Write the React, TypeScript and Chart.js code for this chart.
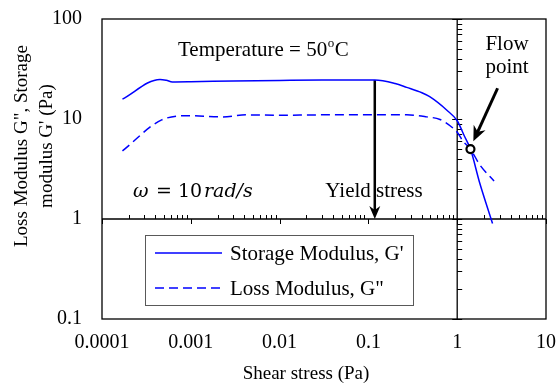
import { useEffect, useRef } from 'react';
import { Chart, registerables } from 'chart.js';

Chart.register(...registerables);

// Shear stress sweep (Pa) and moduli (Pa)
const storageStress = [0.00017, 0.00045, 0.00053, 0.00062, 0.001, 0.003, 0.01, 0.03, 0.118, 0.2, 0.27, 0.4, 0.49, 0.76, 1.0, 1.2, 1.41, 1.79, 2.22, 2.5];
const storageModulus = [15.8, 24.9, 24.4, 23.5, 23.6, 24.0, 24.3, 24.5, 24.5, 22.6, 20.7, 18.3, 16.7, 12.3, 9.6, 6.8, 5.0, 2.3, 1.25, 0.9];
const lossStress = [0.00017, 0.00047, 0.00098, 0.0023, 0.0042, 0.01, 0.03, 0.1, 0.27, 0.45, 0.64, 0.9, 1.02, 1.16, 1.41, 1.79, 2.6];
const lossModulus = [4.8, 9.8, 10.8, 10.5, 11.0, 10.9, 11.0, 11.0, 11.0, 10.5, 9.9, 8.1, 7.2, 6.0, 5.0, 3.5, 2.4];

// Flow point (G' = G'')
const flowPointStress = [1.41];
const flowPointModulus = [5.0];

// Yield stress marker and flow-point pointer
const yieldStress = 0.118;
const yieldModulus = 24.5;
const flowArrowFrom = [2.85, 20.3];
const flowArrowTo = [1.52, 6.0];

// Axis ranges and labelled ticks
const xTickValues = [0.0001, 0.001, 0.01, 0.1, 1, 10];
const yTickValues = [0.1, 1, 10, 100];
const axisCross = 1;

const seriesLabels = ["Storage Modulus, G'", 'Loss Modulus, G"'];
const BLUE = '#0000ff';
const SERIF = '"Liberation Serif", "Times New Roman", serif';
const MATH = '"DejaVu Serif", serif';

function drawArrow(ctx: CanvasRenderingContext2D, x0: number, y0: number, x1: number, y1: number, headLen: number, headHalf: number, width: number) {
  const ang = Math.atan2(y1 - y0, x1 - x0);
  const dx = Math.cos(ang), dy = Math.sin(ang);
  const px = -dy, py = dx;
  ctx.save();
  ctx.strokeStyle = '#000';
  ctx.fillStyle = '#000';
  ctx.lineWidth = width;
  ctx.beginPath();
  ctx.moveTo(x0, y0);
  ctx.lineTo(x1 - dx * headLen * 0.6, y1 - dy * headLen * 0.6);
  ctx.stroke();
  ctx.beginPath();
  ctx.moveTo(x1, y1);
  ctx.lineTo(x1 - dx * headLen + px * headHalf, y1 - dy * headLen + py * headHalf);
  ctx.lineTo(x1 - dx * headLen * 0.7, y1 - dy * headLen * 0.7);
  ctx.lineTo(x1 - dx * headLen - px * headHalf, y1 - dy * headLen - py * headHalf);
  ctx.closePath();
  ctx.fill();
  ctx.restore();
}

const crossAxesPlugin = {
  id: 'crossAxes',
  beforeDatasetsDraw(chart: any) {
    const { ctx, chartArea: a, scales } = chart;
    const xs = scales.x, ys = scales.y;
    const x1 = xs.getPixelForValue(axisCross);
    const y1 = ys.getPixelForValue(axisCross);
    ctx.save();
    ctx.strokeStyle = '#000';
    ctx.lineWidth = 1.3;
    ctx.strokeRect(a.left, a.top, a.right - a.left, a.bottom - a.top);
    ctx.beginPath();
    ctx.moveTo(a.left, y1);
    ctx.lineTo(a.right, y1);
    ctx.moveTo(x1, a.top);
    ctx.lineTo(x1, a.bottom);
    ctx.stroke();

    ctx.lineWidth = 1;
    ctx.beginPath();
    // ticks on the horizontal axis through 1
    for (let e = -4; e < 1; e++) {
      const base = Math.pow(10, e);
      for (let m = 2; m <= 9; m++) {
        const px = Math.round(xs.getPixelForValue(base * m)) + 0.5;
        ctx.moveTo(px, y1);
        ctx.lineTo(px, y1 - 4);
      }
    }
    for (const v of xTickValues) {
      const px = Math.round(xs.getPixelForValue(v)) + 0.5;
      ctx.moveTo(px, y1);
      ctx.lineTo(px, y1 + 5);
    }
    // ticks on the vertical axis through 1
    for (let e = -1; e < 2; e++) {
      const base = Math.pow(10, e);
      for (let m = 2; m <= 9; m++) {
        const py = Math.round(ys.getPixelForValue(base * m)) + 0.5;
        ctx.moveTo(x1, py);
        ctx.lineTo(x1 + 5, py);
      }
    }
    for (const v of yTickValues) {
      const py = Math.round(ys.getPixelForValue(v)) + 0.5;
      ctx.moveTo(x1 - 5, py);
      ctx.lineTo(x1 + 5, py);
    }
    ctx.stroke();
    ctx.restore();

    // yield stress arrow
    const yx = xs.getPixelForValue(yieldStress);
    drawArrow(ctx, yx, ys.getPixelForValue(yieldModulus), yx, y1, 13, 5.5, 2.5);
    // flow point arrow
    drawArrow(
      ctx,
      xs.getPixelForValue(flowArrowFrom[0]), ys.getPixelForValue(flowArrowFrom[1]),
      xs.getPixelForValue(flowArrowTo[0]), ys.getPixelForValue(flowArrowTo[1]),
      15, 6.5, 3
    );
  },
  afterDatasetsDraw(chart: any) {
    const { ctx } = chart;
    ctx.save();
    ctx.fillStyle = '#000';
    ctx.textBaseline = 'alphabetic';

    // Temperature = 50 °C with superscript o
    ctx.font = `21px ${SERIF}`;
    ctx.textAlign = 'left';
    let tx = 178;
    const part1 = 'Temperature = 50';
    ctx.fillText(part1, tx, 56);
    tx += ctx.measureText(part1).width;
    ctx.font = `13px ${SERIF}`;
    ctx.fillText('o', tx + 0.5, 47);
    tx += ctx.measureText('o').width + 1;
    ctx.font = `21px ${SERIF}`;
    ctx.fillText('C', tx, 56);

    // Flow point caption
    ctx.textAlign = 'center';
    ctx.fillText('Flow', 507, 50);
    ctx.fillText('point', 507, 73);

    // Yield stress caption
    ctx.fillText('Yield stress', 374, 197);

    // ω = 10 rad/s
    ctx.textAlign = 'left';
    ctx.font = `italic 19px ${MATH}`;
    ctx.fillText('ω', 133, 197);
    ctx.font = `19px ${MATH}`;
    ctx.fillText('=', 156, 197);
    ctx.fillText('10', 178, 197);
    ctx.font = `italic 19px ${MATH}`;
    ctx.fillText('rad/s', 204, 197);

    // axis titles
    ctx.font = `19px ${SERIF}`;
    ctx.textAlign = 'center';
    ctx.fillText('Shear stress (Pa)', 306, 379);
    ctx.save();
    ctx.translate(0, 146);
    ctx.rotate(-Math.PI / 2);
    ctx.fillText('Loss Modulus G", Storage', 0, 27);
    ctx.fillText("modulus G' (Pa)", 0, 52);
    ctx.restore();

    // legend
    const lx = 145.5, ly = 235.5, lw = 268, lh = 70;
    ctx.fillStyle = '#fff';
    ctx.fillRect(lx, ly, lw, lh);
    ctx.strokeStyle = '#595959';
    ctx.lineWidth = 1;
    ctx.strokeRect(lx, ly, lw, lh);
    ctx.font = `21px ${SERIF}`;
    ctx.textAlign = 'left';
    ctx.textBaseline = 'middle';
    chart.data.datasets.slice(0, 2).forEach((ds: any, i: number) => {
      const yy = 253 + i * 35;
      ctx.strokeStyle = ds.borderColor;
      ctx.lineWidth = ds.borderWidth;
      ctx.setLineDash(ds.borderDash || []);
      ctx.beginPath();
      ctx.moveTo(155, yy);
      ctx.lineTo(222, yy);
      ctx.stroke();
      ctx.setLineDash([]);
      ctx.fillStyle = '#000';
      ctx.fillText(ds.label, 230, yy + 1);
    });
    ctx.restore();
  },
};

export default function App() {
  const canvasRef = useRef<HTMLCanvasElement | null>(null);

  useEffect(() => {
    const canvas = canvasRef.current;
    if (!canvas) return;
    const tickFont = { family: SERIF, size: 20 };
    const chart = new Chart(canvas, {
      type: 'line',
      data: {
        datasets: [
          {
            label: seriesLabels[0],
            data: storageStress.map((x, i) => ({ x, y: storageModulus[i] })),
            borderColor: BLUE,
            borderWidth: 1.5,
            pointRadius: 0,
            cubicInterpolationMode: 'monotone',
            order: 2,
          },
          {
            label: seriesLabels[1],
            data: lossStress.map((x, i) => ({ x, y: lossModulus[i] })),
            borderColor: BLUE,
            borderWidth: 1.5,
            borderDash: [9, 5],
            pointRadius: 0,
            cubicInterpolationMode: 'monotone',
            order: 2,
          },
          {
            label: 'Flow point',
            data: flowPointStress.map((x, i) => ({ x, y: flowPointModulus[i] })),
            showLine: false,
            pointRadius: 4,
            pointBorderWidth: 2.2,
            pointBorderColor: '#000',
            pointBackgroundColor: '#fff',
            order: 0,
          },
        ],
      } as any,
      options: {
        responsive: false,
        animation: false,
        devicePixelRatio: 1,
        layout: { autoPadding: false, padding: { left: 0, right: 13, top: 19, bottom: 0 } },
        plugins: { legend: { display: false }, tooltip: { enabled: false } },
        scales: {
          x: {
            type: 'logarithmic',
            min: 0.0001,
            max: 10,
            grid: { display: false, drawTicks: false },
            border: { display: false },
            afterBuildTicks: (s: any) => { s.ticks = xTickValues.map((v) => ({ value: v })); },
            afterFit: (s: any) => { s.height = 66; s.paddingLeft = 0; s.paddingRight = 0; },
            ticks: {
              autoSkip: false,
              maxRotation: 0,
              padding: 12,
              color: '#000',
              font: tickFont,
              callback: (v: any) => String(Number(v)),
            },
          },
          y: {
            type: 'logarithmic',
            min: 0.1,
            max: 100,
            grid: { display: false, drawTicks: false },
            border: { display: false },
            afterBuildTicks: (s: any) => { s.ticks = yTickValues.map((v) => ({ value: v })); },
            afterFit: (s: any) => { s.width = 102; s.paddingTop = 0; s.paddingBottom = 0; },
            ticks: {
              autoSkip: false,
              padding: 20,
              color: '#000',
              font: tickFont,
              callback: (v: any) => String(Number(v)),
            },
          },
        },
      } as any,
      plugins: [crossAxesPlugin],
    });
    return () => chart.destroy();
  }, []);

  return (
    <div style={{ position: 'fixed', left: 0, top: 0, width: 559, height: 385, background: '#fff' }}>
      <canvas ref={canvasRef} width={559} height={385} />
    </div>
  );
}
